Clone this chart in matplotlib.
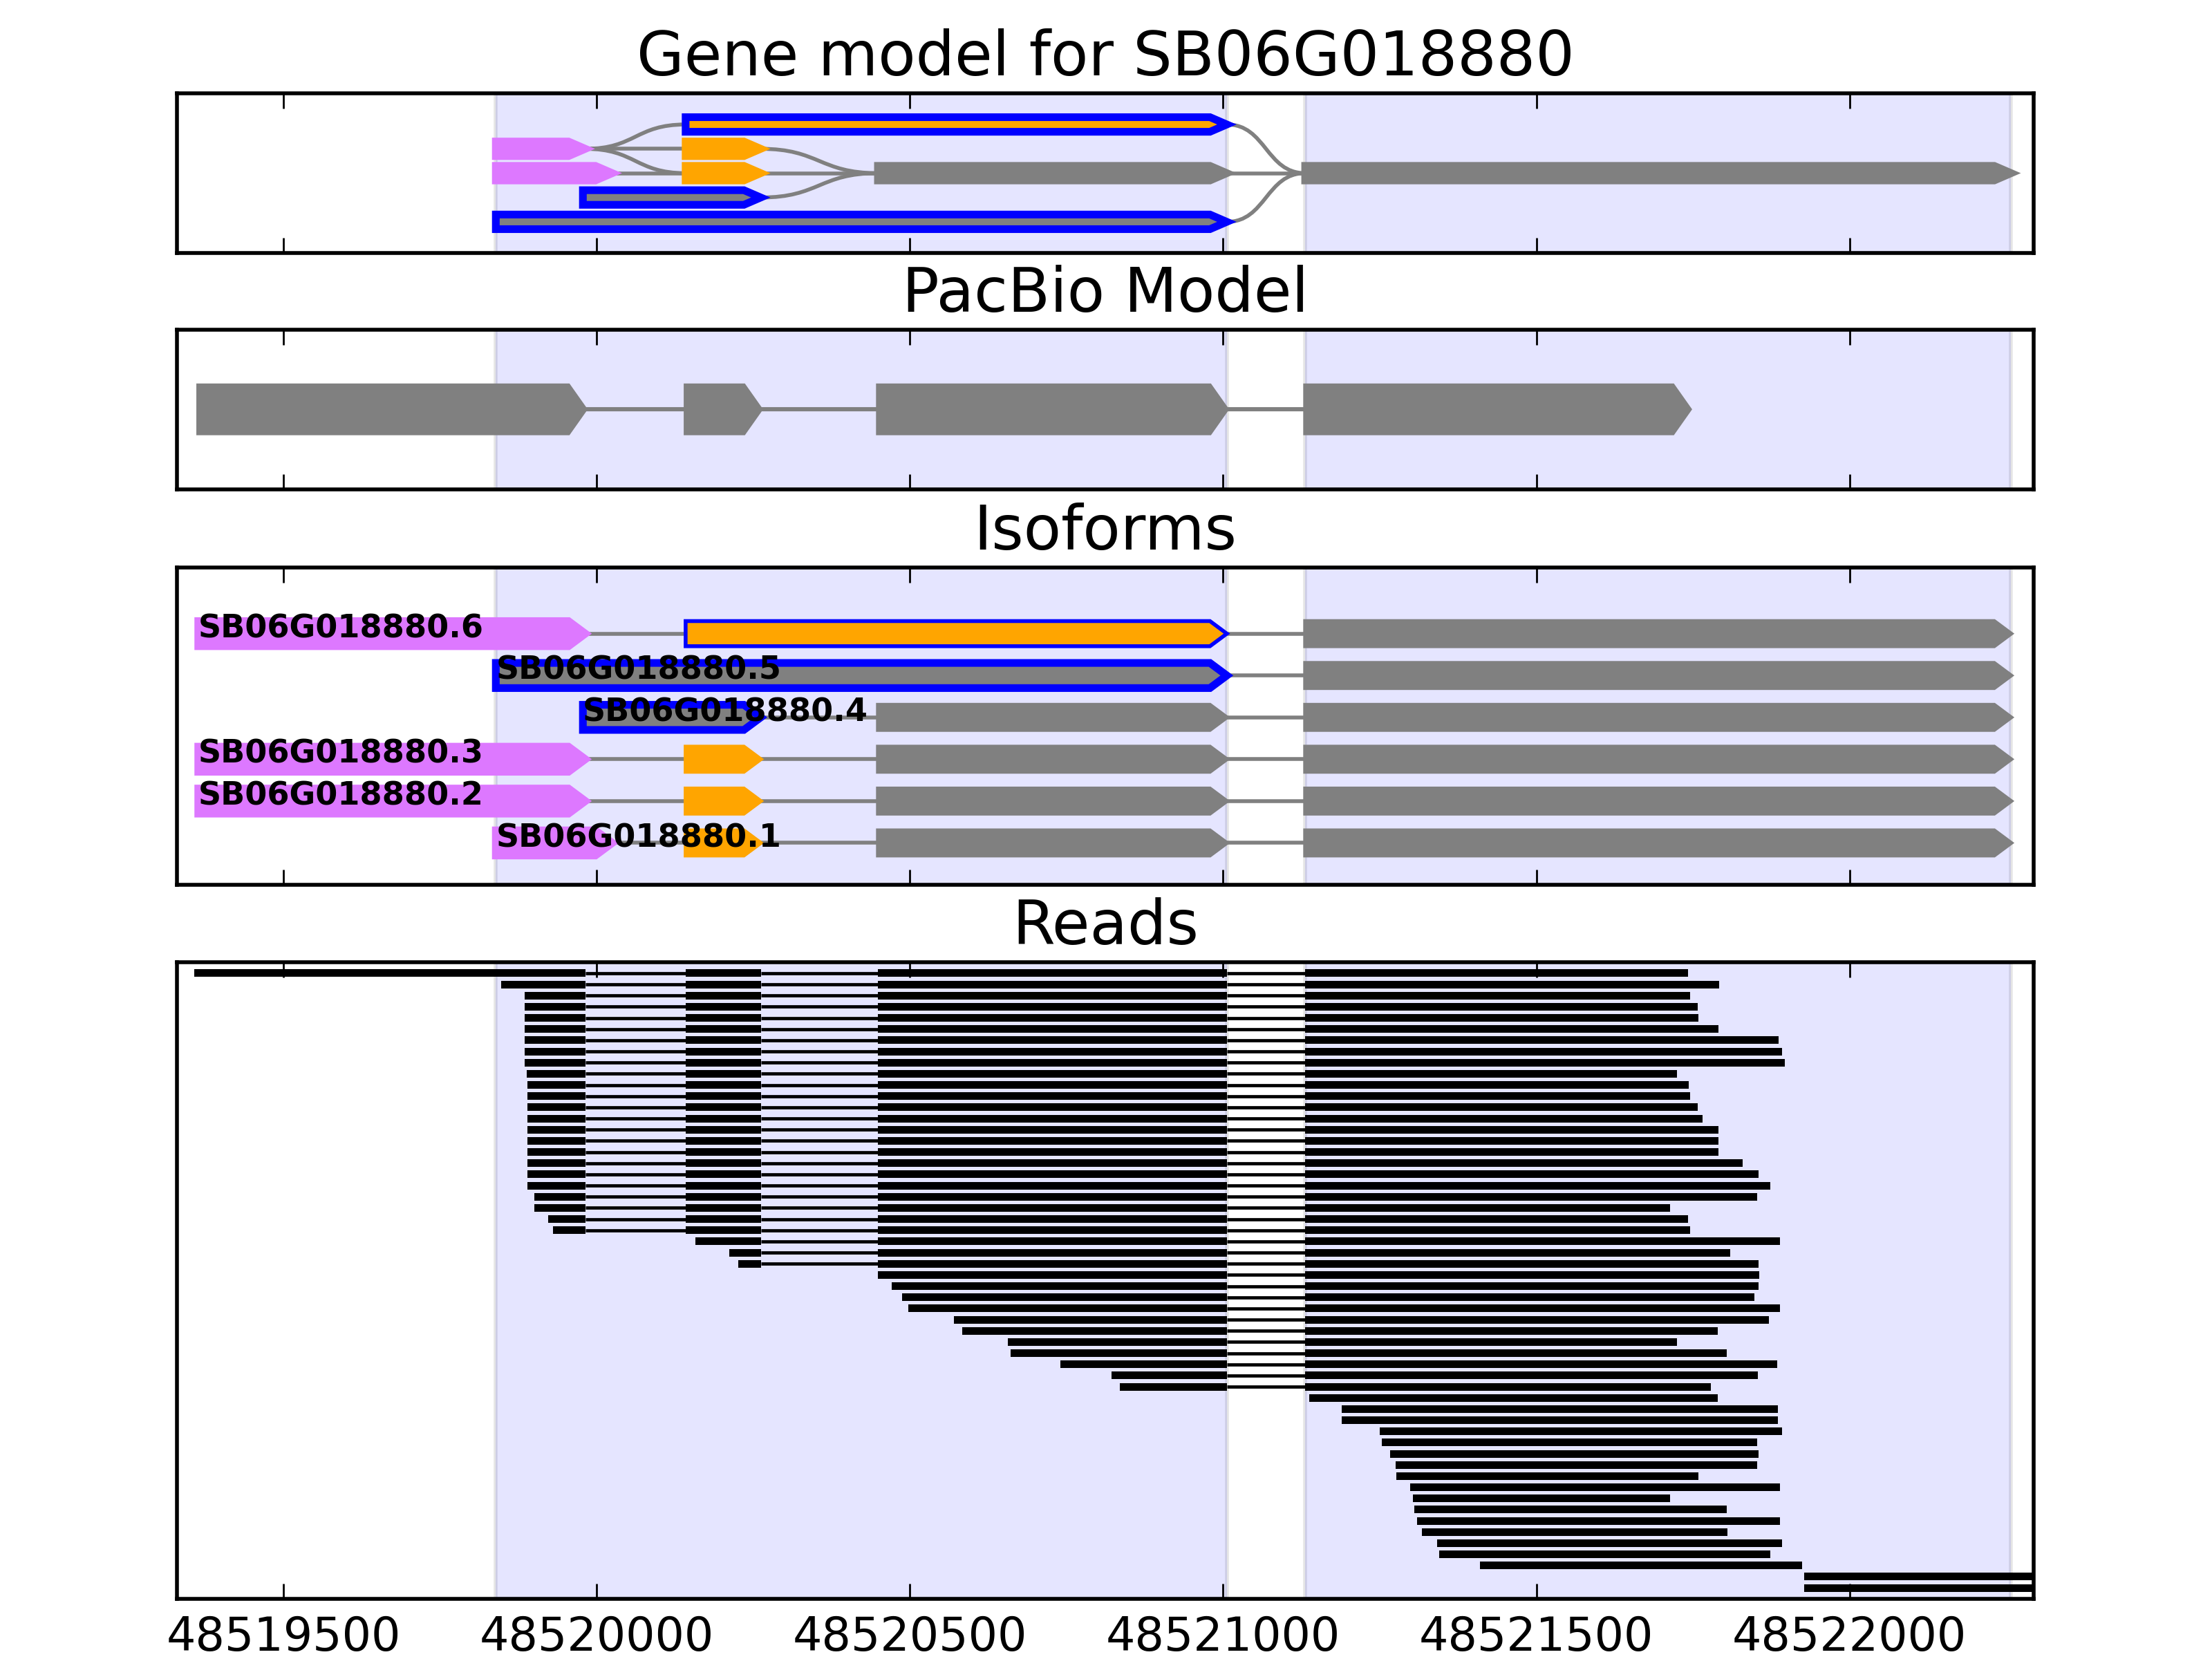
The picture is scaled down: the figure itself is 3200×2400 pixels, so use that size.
import matplotlib
matplotlib.use("Agg")
import matplotlib.pyplot as plt
from matplotlib.patches import Polygon, PathPatch
from matplotlib.path import Path

plt.rcParams['font.family'] = ['DejaVu Sans']

# ---------------- data ----------------
panel_titles = ["Gene model for SB06G018880", "PacBio Model", "Isoforms", "Reads"]
tick_values = [48519500, 48520000, 48520500, 48521000, 48521500, 48522000]
x_limits = (48519330, 48522294)
shaded_starts = [48519839, 48521131]
shaded_ends = [48521006, 48522258]

# gene model (splice graph) nodes
gm_starts = [48519839, 48519839, 48520142, 48520142, 48520142, 48519978, 48519839, 48520449, 48521131]
gm_ends = [48519982, 48520025, 48521006, 48520262, 48520262, 48520262, 48521006, 48521006, 48522258]
gm_rows = [3, 2, 4, 3, 2, 1, 0, 2, 2]
gm_kinds = ['utr', 'utr', 'alt', 'alt', 'alt', 'cds', 'cds', 'cds', 'cds']
gm_highlight = [0, 0, 1, 0, 0, 1, 1, 0, 0]
gm_edge_from = [0, 0, 0, 1, 3, 4, 5, 7, 2, 6]
gm_edge_to = [2, 3, 4, 4, 7, 7, 7, 8, 8, 8]

# PacBio model
pb_starts = [48519364, 48520142, 48520449, 48521131]
pb_ends = [48519982, 48520262, 48521006, 48521745]

# isoforms (row 0 = .1 at bottom)
iso_labels = ["SB06G018880.1", "SB06G018880.2", "SB06G018880.3",
              "SB06G018880.4", "SB06G018880.5", "SB06G018880.6"]
iso_exon_starts = [
    [48519839, 48520142, 48520449, 48521131],
    [48519364, 48520142, 48520449, 48521131],
    [48519364, 48520142, 48520449, 48521131],
    [48519978, 48520449, 48521131],
    [48519839, 48521131],
    [48519364, 48520142, 48521131],
]
iso_exon_ends = [
    [48520025, 48520262, 48521006, 48522258],
    [48519982, 48520262, 48521006, 48522258],
    [48519982, 48520262, 48521006, 48522258],
    [48520262, 48521006, 48522258],
    [48521006, 48522258],
    [48519982, 48521006, 48522258],
]
iso_exon_kinds = [
    ['utr', 'alt', 'cds', 'cds'],
    ['utr', 'alt', 'cds', 'cds'],
    ['utr', 'alt', 'cds', 'cds'],
    ['cds', 'cds', 'cds'],
    ['cds', 'cds'],
    ['utr', 'alt', 'cds'],
]
iso_exon_highlight = [
    [0, 0, 0, 0],
    [0, 0, 0, 0],
    [0, 0, 0, 0],
    [1, 0, 0],
    [1, 0],
    [0, 1, 0],
]

# reads (row 0 at top)
read_starts = [48519358, 48519847, 48519885, 48519885, 48519885, 48519885, 48519885, 48519885,
               48519885, 48519888, 48519890, 48519890, 48519890, 48519890, 48519890, 48519890,
               48519890, 48519890, 48519890, 48519890, 48519901, 48519901, 48519923, 48519930,
               48520158, 48520212, 48520226, 48520449, 48520471, 48520487, 48520498, 48520570,
               48520584, 48520656, 48520661, 48520740, 48520822, 48520835, 48521137, 48521189,
               48521189, 48521250, 48521253, 48521267, 48521275, 48521276, 48521299, 48521303,
               48521305, 48521310, 48521317, 48521342, 48521345, 48521410, 48521928, 48521928]
read_ends = [48521742, 48521792, 48521745, 48521758, 48521759, 48521791, 48521887, 48521892,
             48521897, 48521724, 48521743, 48521746, 48521758, 48521765, 48521791, 48521791,
             48521791, 48521829, 48521855, 48521873, 48521853, 48521713, 48521742, 48521746,
             48521889, 48521810, 48521855, 48521856, 48521855, 48521848, 48521889, 48521871,
             48521790, 48521724, 48521804, 48521885, 48521854, 48521779, 48521790, 48521886,
             48521886, 48521892, 48521853, 48521855, 48521853, 48521759, 48521889, 48521714,
             48521804, 48521889, 48521805, 48521892, 48521873, 48521924, 48522450, 48522450]
intron_starts = [48519982, 48520262, 48521006]
intron_ends = [48520142, 48520449, 48521131]

# ---------------- style ----------------
COL = {'utr': '#DD78FF', 'alt': '#FFA500', 'cds': '#808080'}
HL = '#0000FF'
GRAY = '#808080'
TIP = 27
DPI = 400

fig = plt.figure(figsize=(8, 6), dpi=DPI)
left, width = 0.08, 0.8394
axes_pos = [(0.8475, 0.09625), (0.70513, 0.09625), (0.46667, 0.19125), (0.036125, 0.384)]
axs = [fig.add_axes([left, b, width, h]) for b, h in axes_pos]


def arrow_xy(start, end, y, h):
    t = min(TIP, end - start)
    return [(start, y - h / 2), (end - t, y - h / 2), (end, y), (end - t, y + h / 2), (start, y + h / 2)]


def exon(ax, start, end, y, h, face, edge, lw):
    p = Polygon(arrow_xy(start, end, y, h), closed=True, facecolor=face, edgecolor=edge,
                linewidth=lw, joinstyle='miter', zorder=3)
    ax.add_patch(p)


def style_axis(ax, title, show_labels):
    ax.set_xlim(*x_limits)
    ax.set_xticks(tick_values)
    ax.set_xticklabels([str(v) for v in tick_values])
    ax.set_yticks([])
    ax.tick_params(axis='x', direction='in', top=True, bottom=True, length=4, width=0.5,
                   labelsize=12, pad=4, labelbottom=show_labels)
    for s in ax.spines.values():
        s.set_linewidth(1.0)
    ax.set_title(title, fontsize=16, pad=4.6)
    for s, e in zip(shaded_starts, shaded_ends):
        ax.axvspan(s, e, facecolor='blue', edgecolor='black', alpha=0.1, lw=1, zorder=0)


# ---- panel 1: gene model ----
ax = axs[0]
for a, b in zip(gm_edge_from, gm_edge_to):
    x0, y0 = gm_ends[a], gm_rows[a]
    x1, y1 = gm_starts[b], gm_rows[b]
    if y0 == y1:
        ax.plot([x0, x1], [y0, y1], color=GRAY, lw=1.0, zorder=2, solid_capstyle='butt')
    else:
        xm = (x0 + x1) / 2
        path = Path([(x0, y0), (xm, y0), (xm, y1), (x1, y1)],
                    [Path.MOVETO, Path.CURVE4, Path.CURVE4, Path.CURVE4])
        ax.add_patch(PathPatch(path, facecolor='none', edgecolor=GRAY, lw=1.0, zorder=2))
for s, e, r, k, hl in zip(gm_starts, gm_ends, gm_rows, gm_kinds, gm_highlight):
    exon(ax, s, e, r, 0.6, COL[k], HL if hl else COL[k], 2.0)
ax.set_ylim(-1.28, 5.28)
style_axis(ax, panel_titles[0], False)

# ---- panel 2: PacBio model ----
ax = axs[1]
for i in range(len(pb_starts) - 1):
    ax.plot([pb_ends[i], pb_starts[i + 1]], [0, 0], color=GRAY, lw=1.1, zorder=2,
            solid_capstyle='butt')
for s, e in zip(pb_starts, pb_ends):
    exon(ax, s, e, 0, 0.6, COL['cds'], COL['cds'], 1.0)
ax.set_ylim(-1, 1)
style_axis(ax, panel_titles[1], False)

# ---- panel 3: isoforms ----
ax = axs[2]
for row, (lab, ss, ee, kk, hh) in enumerate(zip(iso_labels, iso_exon_starts, iso_exon_ends,
                                               iso_exon_kinds, iso_exon_highlight)):
    for i in range(len(ss) - 1):
        ax.plot([ee[i], ss[i + 1]], [row, row], color=GRAY, lw=1.0, zorder=2,
                solid_capstyle='butt')
    for s, e, k, hl in zip(ss, ee, kk, hh):
        if hl:
            lw = 1.0 if k == 'alt' else 2.0
            edge = HL
        else:
            lw = 2.0 if k == 'utr' else 1.0
            edge = COL[k]
        exon(ax, s, e, row, 0.6, COL[k], edge, lw)
    ax.text(ss[0], row - 0.093, lab, fontsize=8.3, fontweight='bold', color='black',
            ha='left', va='baseline', zorder=5)
ax.set_ylim(-1, 6.58)
style_axis(ax, panel_titles[2], False)

# ---- panel 4: reads ----
ax = axs[3]
for row, (s, e) in enumerate(zip(read_starts, read_ends)):
    blocks = []
    cur = s
    for a, b in zip(intron_starts, intron_ends):
        if a > s and b < e:
            blocks.append((cur, a))
            ax.hlines(row, a, b, color='black', lw=0.85, zorder=2)
            cur = b
    blocks.append((cur, e))
    ax.broken_barh([(a, b - a) for a, b in blocks], (row - 0.34, 0.68),
                   facecolors='black', edgecolor='none', zorder=3)
ax.set_ylim(len(read_starts), -1)
style_axis(ax, panel_titles[3], True)

fig.savefig("out.png", dpi=DPI, facecolor='white')
